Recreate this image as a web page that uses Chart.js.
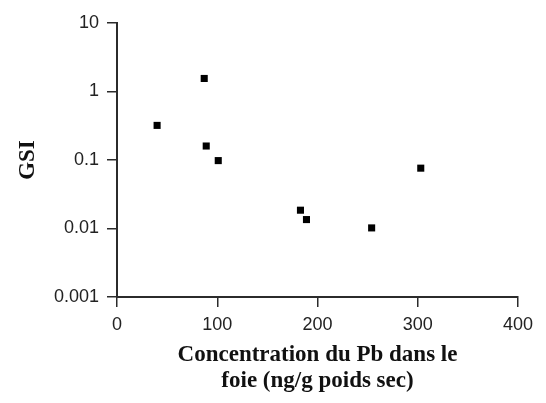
<!DOCTYPE html>
<html>
<head>
<meta charset="utf-8">
<script src="https://cdn.jsdelivr.net/npm/chart.js@4/dist/chart.umd.min.js"></script>
<style>
  html, body { margin: 0; padding: 0; background: #fff; }
  #wrap { width: 546px; height: 403px; }
</style>
</head>
<body>
<div id="wrap"><canvas id="c" width="546" height="403"></canvas></div>
<script>
// Data
const pbConcentration = [40, 87, 89, 101, 183, 189, 254, 303];
const gsiValues = [0.32, 1.55, 0.16, 0.098, 0.0185, 0.0135, 0.0102, 0.076];
const yTickValues = [0.001, 0.01, 0.1, 1, 10];
const yTickLabels = ['0.001', '0.01', '0.1', '1', '10'];
const xTickValues = [0, 100, 200, 300, 400];
const xTitleLines = ['Concentration du Pb dans le', 'foie (ng/g poids sec)'];
const yTitle = 'GSI';

const points = pbConcentration.map((x, i) => ({ x: x, y: gsiValues[i] }));

const axisColor = '#2b2b2b';
const tickFont = { family: 'Liberation Sans', size: 18 };
const titleFont = { family: 'Liberation Serif', size: 23, weight: 'bold', lineHeight: 1.13 };

new Chart(document.getElementById('c'), {
  type: 'scatter',
  data: {
    datasets: [{
      data: points,
      pointStyle: 'rect',
      pointRadius: 5,
      pointHoverRadius: 5,
      backgroundColor: '#000',
      borderWidth: 0
    }]
  },
  options: {
    responsive: false,
    animation: false,
    events: [],
    layout: { padding: { left: 0, top: 23, right: 28, bottom: 0 } },
    plugins: { legend: { display: false }, tooltip: { enabled: false } },
    scales: {
      x: {
        type: 'linear',
        min: 0, max: 400,
        afterBuildTicks: s => { s.ticks = xTickValues.map(v => ({ value: v })); },
        afterFit: s => { s.height = 106; s.paddingLeft = 0; s.paddingRight = 0; },
        ticks: { font: tickFont, color: '#222', padding: 7, maxRotation: 0 },
        grid: { drawOnChartArea: false, drawTicks: true, tickLength: 10, color: axisColor, lineWidth: 1.5 },
        border: { display: true, color: axisColor, width: 2 },
        title: { display: true, text: xTitleLines, font: titleFont, color: '#111', padding: { top: 0, bottom: 9 } }
      },
      y: {
        type: 'logarithmic',
        min: 0.001, max: 10,
        afterBuildTicks: s => { s.ticks = yTickValues.map(v => ({ value: v })); },
        afterFit: s => { s.width = 117; s.paddingTop = 0; s.paddingBottom = 0; },
        ticks: {
          font: tickFont, color: '#222', padding: 8,
          callback: (v) => { const i = yTickValues.indexOf(v); return i >= 0 ? yTickLabels[i] : ''; }
        },
        grid: { drawOnChartArea: false, drawTicks: true, tickLength: 10, color: axisColor, lineWidth: 1.5 },
        border: { display: true, color: axisColor, width: 2 },
        title: { display: true, text: yTitle, font: titleFont, color: '#111', padding: { top: 15, bottom: 0 } }
      }
    }
  }
});
</script>
</body>
</html>
